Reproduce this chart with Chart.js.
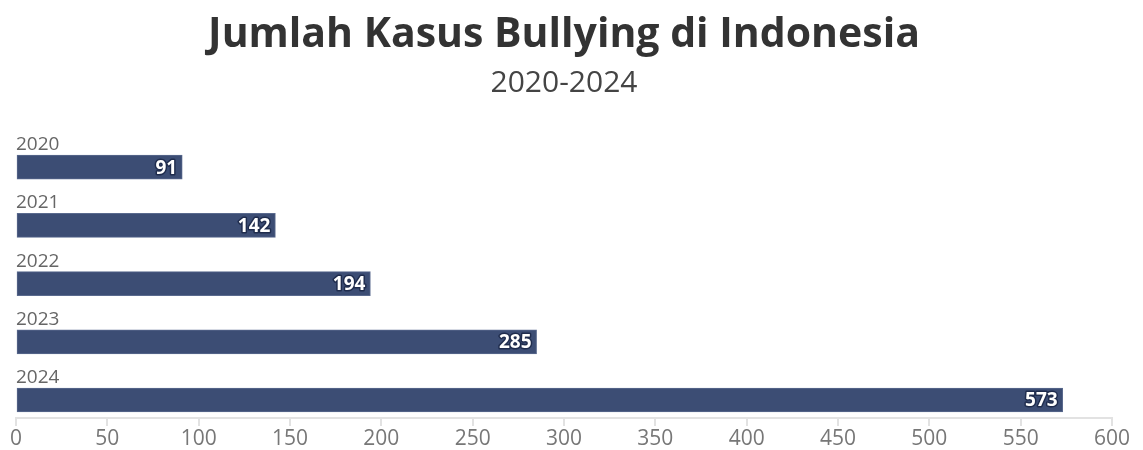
<!DOCTYPE html>
<html>
<head>
<meta charset="utf-8">
<script src="https://cdn.jsdelivr.net/npm/chart.js@4"></script>
<style>
  html, body { margin: 0; padding: 0; background: #fff; }
  #wrap { width: 1143px; height: 450px; }
</style>
</head>
<body>
<div id="wrap"><canvas id="myChart"></canvas></div>
<script>
const years = ['2020', '2021', '2022', '2023', '2024'];
const cases = [91, 142, 194, 285, 573];
const xTicks = [0, 50, 100, 150, 200, 250, 300, 350, 400, 450, 500, 550, 600];

const barColor = '#3c4d74';
const font = '"Open Sans", sans-serif';

// year label above each bar + value inside the bar end
const barLabels = {
    id: 'barLabels',
    afterDatasetsDraw(chart) {
        const c = chart.ctx;
        const meta = chart.getDatasetMeta(0);
        meta.data.forEach((bar, i) => {
            const h = bar.height;
            c.save();
            c.font = '19px ' + font;
            c.fillStyle = '#666';
            c.textAlign = 'left';
            c.textBaseline = 'bottom';
            c.fillText(years[i], chart.chartArea.left, bar.y - h / 2 - 1);

            c.font = 'bold 19px ' + font;
            c.textAlign = 'right';
            c.textBaseline = 'middle';
            c.lineJoin = 'round';
            c.lineWidth = 3;
            c.strokeStyle = '#1f2c4d';
            c.strokeText(cases[i], bar.x - 5, bar.y + 1);
            c.fillStyle = '#fff';
            c.fillText(cases[i], bar.x - 5, bar.y + 1);
            c.restore();
        });
    }
};

const ctx = document.getElementById('myChart').getContext('2d');
const myChart = new Chart(ctx, {
    type: 'bar',
    data: {
        datasets: [{
            data: cases.map((v, i) => ({ x: v, y: i })),
            backgroundColor: barColor,
            borderColor: '#5a6a8e',
            borderWidth: 1,
            borderSkipped: false,
            barThickness: 24
        }]
    },
    options: {
        indexAxis: 'y',
        responsive: true,
        maintainAspectRatio: false,
        animation: false,
        layout: { padding: { left: 16, right: 31, top: 4, bottom: -3 } },
        plugins: {
            legend: { display: false },
            tooltip: { enabled: false },
            title: {
                display: true,
                text: 'Jumlah Kasus Bullying di Indonesia',
                color: '#333',
                font: { family: font, size: 41, weight: 'bold' },
                padding: { top: 7, bottom: 5 }
            },
            subtitle: {
                display: true,
                text: '2020-2024',
                color: '#444',
                font: { family: font, size: 30 },
                padding: { bottom: 14 }
            }
        },
        scales: {
            x: {
                type: 'linear',
                min: 0,
                max: 600,
                afterBuildTicks: (axis) => { axis.ticks = xTicks.map(v => ({ value: v })); },
                grid: { drawOnChartArea: false, color: '#e2e2e2', tickLength: 8, lineWidth: 2 },
                border: { color: '#e2e2e2', width: 2 },
                ticks: { color: '#777', font: { family: font, size: 21, lineHeight: 1 }, padding: 3 }
            },
            y: {
                type: 'linear',
                display: false,
                offset: false,
                reverse: true,
                min: -0.893,
                max: 4.309
            }
        }
    },
    plugins: [barLabels]
});
</script>
</body>
</html>
